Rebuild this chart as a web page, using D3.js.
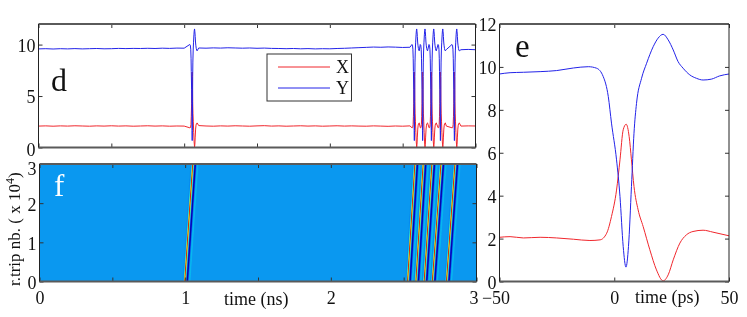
<!DOCTYPE html>
<html>
<head>
<meta charset="utf-8">
<script src="https://cdn.jsdelivr.net/npm/d3@7"></script>
<style>
  body { margin: 0; background: #fff; }
  svg { filter: blur(0.35px); }
  text { font-family: "Liberation Serif", serif; fill: #111; }
  .axis text { font-size: 18px; fill: #111; }
  .axis path { display: none; }
  .axis line { stroke: #333; }
</style>
</head>
<body>
<div id="chart"></div>
<script>
// zoomed pulse, panel e (time in ps)
const zoomTimeY = [-50, -45.4, -39.6, -32.3, -25.1, -17.8, -11.3, -7.7, -4.8, -2.6, -1.2, 1, 2.5, 3.9, 5.1, 6.2, 7.5, 8.6, 9.7, 11.9, 14.1, 17, 19.1, 21.3, 23.5, 25.7, 27.8, 30, 32.9, 35.8, 38.7, 42.3, 45.9, 50];
const zoomY = [9.67, 9.73, 9.75, 9.78, 9.83, 9.95, 10.01, 9.94, 9.55, 8.62, 7.38, 5.67, 3.96, 1.63, 0.67, 1.63, 4.43, 6.91, 8.3, 9.47, 10.17, 10.95, 11.34, 11.52, 11.26, 10.79, 10.25, 9.94, 9.63, 9.47, 9.39, 9.43, 9.58, 9.67];
const zoomTimeX = [-50, -45.4, -39.6, -32.3, -25.1, -17.8, -10.6, -6.2, -3.3, -1.2, 1, 2.5, 3.9, 5.2, 6.5, 7.5, 8.6, 10.4, 12.6, 15.5, 18.4, 21.3, 23.5, 25.7, 28.6, 31.4, 34.3, 38.7, 43, 50];
const zoomX = [2.06, 2.09, 2.03, 2.06, 2.03, 1.97, 1.91, 1.94, 2.25, 3.03, 4.26, 5.67, 7.07, 7.33, 6.75, 5.67, 4.43, 3.34, 2.56, 1.48, 0.54, 0.03, 0.31, 1.01, 1.79, 2.17, 2.33, 2.39, 2.3, 2.13];

// pulse start times in ns, at the first and the last round trip
const pulsesFirst = [0.995, 2.525, 2.582, 2.639, 2.695, 2.792];
const pulsesLast = [1.05, 2.575, 2.632, 2.692, 2.754, 2.85];

// flat level of panel d, read every 0.05 ns
const levelY = [9.58, 9.6, 9.57, 9.6, 9.58, 9.61, 9.58, 9.6, 9.62, 9.59, 9.6, 9.63, 9.61, 9.63, 9.62, 9.64, 9.62, 9.65, 9.63, 9.66, 9.65, 9.64, 9.67, 9.65, 9.68, 9.66, 9.69, 9.67, 9.65, 9.67, 9.64, 9.66, 9.63, 9.62, 9.6, 9.62, 9.59, 9.61, 9.58, 9.6, 9.59, 9.62, 9.64, 9.67, 9.7, 9.73, 9.76, 9.74, 9.77, 9.75, 9.72, 9.74, 9.7, 9.6, 9.55, 9.58, 9.52, 9.55, 9.5, 9.53, 9.5];
const levelX = [2.08, 2.1, 2.07, 2.1, 2.08, 2.11, 2.09, 2.07, 2.1, 2.08, 2.11, 2.08, 2.1, 2.07, 2.09, 2.11, 2.08, 2.1, 2.07, 2.09, 2.08, 2.1, 2.13, 2.09, 2.07, 2.1, 2.08, 2.11, 2.09, 2.07, 2.1, 2.12, 2.08, 2.1, 2.07, 2.09, 2.11, 2.08, 2.1, 2.07, 2.09, 2.11, 2.08, 2.1, 2.08, 2.07, 2.1, 2.08, 2.06, 2.09, 2.07, 2.1, 2.08, 2.1, 2.07, 2.1, 2.08, 2.11, 2.08, 2.1, 2.09];

const timeTicks = [0, 0.5, 1, 1.5, 2, 2.5, 3];
const timeLabels = [0, 1, 2, 3];
const ticksD = [0, 5, 10];
const ticksF = [0, 1, 2, 3];
const ticksE = [0, 2, 4, 6, 8, 10, 12];
const ticksEx = [-50, 0, 50];

const colorX = '#f0262c';
const colorY = '#2222e8';

const svg = d3.select('#chart').append('svg')
    .attr('width', 747)
    .attr('height', 317)
    .style('display', 'block');

const fmtMinus = d => (d < 0 ? '\u2212' + Math.abs(d) : d);
const inPulse = z => z >= -15 && z <= 42;

// keeps the flat level outside pulses, and the zoomed pulse inside them
function traceD(level, zoomTime, zoom) {
    const pts = [];
    level.forEach((v, i) => {
        const t = i * 0.05;
        const inside = pulsesLast.some(p => t > p - 0.015 && t < p + 0.042);
        if (!inside) pts.push([t, v]);
    });
    pulsesLast.forEach(p => {
        zoomTime.forEach((z, i) => {
            if (inPulse(z)) pts.push([p + z / 1000, zoom[i]]);
        });
    });
    return pts.sort((a, b) => a[0] - b[0]);
}

// matlab jet, a bit washed out like the printed figure
function jet(v) {
    const f = Math.max(0, Math.min(1, v / 7.6));
    const c = x => Math.max(0, Math.min(1, 1.5 - Math.abs(4 * f - x)));
    return `rgb(${Math.round(10 + 245 * c(3))},${Math.round(255 * c(2))},${Math.round(240 * c(1))})`;
}

function frame(g, x0, x1, y0, y1) {
    [y0, y1].forEach(y => g.append('line')
        .attr('x1', x0).attr('x2', x1).attr('y1', y).attr('y2', y)
        .attr('stroke', '#5a5a5a').attr('stroke-width', 1.8));
    [x0, x1].forEach(x => g.append('line')
        .attr('x1', x).attr('x2', x).attr('y1', y0).attr('y2', y1)
        .attr('stroke', '#222').attr('stroke-width', 1));
}

function addTicks(g, x, y, xTicks, xFmt, yTicks, yFmt, yPad) {
    const [x0, x1] = x.range();
    const [y1, y0] = y.range();
    const bottom = g.append('g').attr('class', 'axis').attr('transform', `translate(0,${y1})`)
        .call(d3.axisBottom(x).tickValues(xTicks).tickSize(-4).tickPadding(10).tickFormat(xFmt));
    g.append('g').attr('class', 'axis').attr('transform', `translate(0,${y0})`)
        .call(d3.axisTop(x).tickValues(xTicks).tickSize(-4).tickFormat(''));
    const left = g.append('g').attr('class', 'axis').attr('transform', `translate(${x0},0)`)
        .call(d3.axisLeft(y).tickValues(yTicks).tickSize(-4).tickPadding(yPad).tickFormat(yFmt));
    left.selectAll('.tick text').attr('dy', '0.38em');
    g.append('g').attr('class', 'axis').attr('transform', `translate(${x1},0)`)
        .call(d3.axisRight(y).tickValues(yTicks).tickSize(-4).tickFormat(''));
    frame(g, x0, x1, y0, y1);
    return { bottom, left };
}

const line = d3.line().x(d => d[0]).y(d => d[1]);

// panel d
const xD = d3.scaleLinear().domain([0, 3]).range([38.5, 475.5]);
const yD = d3.scaleLinear().domain([0, 12]).range([147.5, 24]);
const gD = svg.append('g');
[[levelX, zoomTimeX, zoomX, colorX], [levelY, zoomTimeY, zoomY, colorY]].forEach(([lvl, zt, zv, col]) => {
    gD.append('path')
        .attr('d', line(traceD(lvl, zt, zv).map(d => [xD(d[0]), yD(d[1])])))
        .attr('fill', 'none')
        .attr('stroke', col)
        .attr('stroke-width', 1);
});
const axisD = addTicks(gD, xD, yD, timeTicks, () => '', ticksD, d => d, 3);
axisD.left.selectAll('.tick text').filter(d => d === 0).attr('dy', '0.45em');
gD.append('text').attr('x', 51).attr('y', 91).style('font-size', '32px').text('d');

// legend
const gL = gD.append('g');
gL.append('rect').attr('x', 267).attr('y', 54).attr('width', 84.5).attr('height', 47)
    .attr('fill', '#fff').attr('stroke', '#333').attr('stroke-width', 1);
[['X', colorX, 67], ['Y', colorY, 88]].forEach(([name, col, y]) => {
    gL.append('line').attr('x1', 278).attr('x2', 330).attr('y1', y).attr('y2', y)
        .attr('stroke', col).attr('stroke-width', 1);
    gL.append('text').attr('x', 336).attr('y', y + 6).style('font-size', '18px').text(name);
});

// panel f
const xF = d3.scaleLinear().domain([0, 3]).range([39.5, 476.5]);
const yF = d3.scaleLinear().domain([0, 3]).range([281.5, 164]);
const gF = svg.append('g');
gF.append('rect')
    .attr('x', xF(0)).attr('y', yF(3))
    .attr('width', xF(3) - xF(0)).attr('height', yF(0) - yF(3))
    .attr('fill', jet(2.08));
pulsesFirst.forEach((p, k) => {
    const q = pulsesLast[k];
    zoomTimeX.slice(1).forEach((z, i) => {
        if (!inPulse(z) || !inPulse(zoomTimeX[i])) return;
        const a = zoomTimeX[i] / 1000;
        const b = z / 1000;
        const col = jet((zoomX[i] + zoomX[i + 1]) / 2);
        gF.append('path')
            .attr('d', line([
                [xF(p + a), yF(0)], [xF(p + b), yF(0)],
                [xF(q + b), yF(3)], [xF(q + a), yF(3)]
            ]) + 'Z')
            .attr('fill', col)
            .attr('stroke', col)
            .attr('stroke-width', 0.4);
    });
});
const axisF = addTicks(gF, xF, yF, timeTicks, d => (timeLabels.includes(d) ? d : ''), ticksF, d => d, 3);
// the last label sits left of its tick, the next panel's label follows it
axisF.bottom.selectAll('.tick text').filter(d => d === 3).attr('dx', -3);
axisF.left.selectAll('.tick text').filter(d => d === 3).attr('dy', '0.6em');
gF.append('text').attr('x', 54).attr('y', 196).style('font-size', '31px').style('fill', '#fff').text('f');

const ylab = gF.append('text')
    .attr('transform', 'translate(20,286) rotate(-90)')
    .style('font-size', '17px');
ylab.append('tspan').text('r.trip nb. ( x 10');
ylab.append('tspan').attr('dy', -6).style('font-size', '12px').text('4');
ylab.append('tspan').attr('dy', 6).text(')');
gF.append('text').attr('x', 224).attr('y', 305).style('font-size', '18px').text('time (ns)');

// panel e
const xE = d3.scaleLinear().domain([-50, 50]).range([499.5, 729]);
const yE = d3.scaleLinear().domain([0, 12]).range([281.5, 24]);
const gE = svg.append('g');
const smooth = d3.line().curve(d3.curveMonotoneX).x(d => d[0]).y(d => d[1]);
[[zoomTimeX, zoomX, colorX], [zoomTimeY, zoomY, colorY]].forEach(([zt, zv, col]) => {
    gE.append('path')
        .attr('d', smooth(zt.map((t, i) => [xE(t), yE(zv[i])])))
        .attr('fill', 'none')
        .attr('stroke', col)
        .attr('stroke-width', 1);
});
const axisE = addTicks(gE, xE, yE, ticksEx, fmtMinus, ticksE, d => d, 3);
axisE.bottom.selectAll('.tick text').filter(d => d === -50).attr('dx', -4);
gE.append('text').attr('x', 515).attr('y', 57).style('font-size', '33px').text('e');
gE.append('text').attr('x', 635).attr('y', 303).style('font-size', '18px').text('time (ps)');
</script>
</body>
</html>
